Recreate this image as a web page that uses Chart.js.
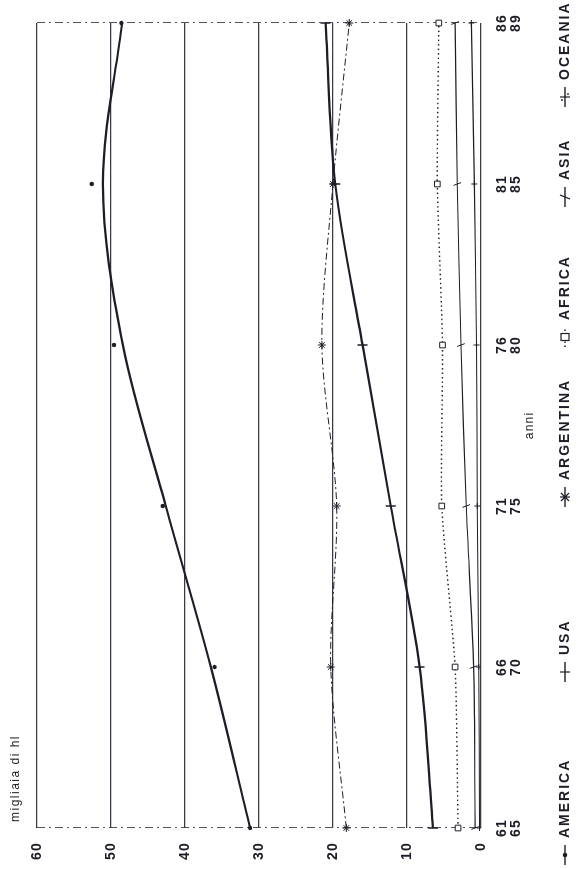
<!DOCTYPE html>
<html><head><meta charset="utf-8">
<script src="https://cdn.jsdelivr.net/npm/chart.js@4/dist/chart.umd.min.js"></script>
<style>
html,body{margin:0;padding:0;background:#fff;width:583px;height:869px;overflow:hidden}
#wrap{position:absolute;left:0;top:0;width:869px;height:583px;transform-origin:0 0;transform:translate(0,869px) rotate(-90deg);}
canvas{display:block}
</style></head><body>
<div id="wrap"><canvas id="c" width="869" height="583"></canvas></div>
<script>
// ---- data ----
const periods = [["61","65"],["66","70"],["71","75"],["76","80"],["81","85"],["86","89"]];
const americaPoints = [31.2, 36.0, 43.0, 49.6, 52.6, 48.6];
const americaTrend  = [31.2, 36.5, 42.6, 48.4, 51.1, 48.5];
const usa       = [6.5, 8.3, 12.2, 16.0, 19.7, 21.0];
const argentina = [18.2, 20.3, 19.5, 21.5, 20.0, 17.8];
const africa    = [3.1, 3.5, 5.3, 5.2, 5.9, 5.7];
const asia      = [0.8, 1.0, 2.0, 2.7, 3.2, 3.5];
const oceania   = [0.2, 0.3, 0.5, 0.6, 0.9, 1.3];
const valueMin = 0, valueMax = 60, valueStep = 10;
const seriesNames = ["AMERICA","USA","ARGENTINA","AFRICA","ASIA","OCEANIA"];
const yTitle = "migliaia di hl";
const xTitle = "anni";

// ---- layout / style ----
const INK = '#1d1d27';
const GRID = '#3a3a46';
const FONT = '"Liberation Sans", Arial, sans-serif';
const SPACING = '1.2px';
const LEGEND_TEXT_X = [31, 214, 389, 549, 689, 789];   // where each legend text starts
const LEGEND_Y = 565, SYM = 20;

function drawSymbol(g, kind, x0, cy){
  const x1 = x0 + SYM, cx = (x0 + x1) / 2;
  g.save();
  g.strokeStyle = INK; g.fillStyle = INK; g.lineWidth = 1.4;
  if (kind === 'AFRICA') g.setLineDash([1.5,2.5]);
  g.beginPath(); g.moveTo(x0, cy); g.lineTo(x1, cy); g.stroke();
  g.setLineDash([]); g.lineWidth = 1.2;
  g.beginPath();
  if (kind === 'AMERICA') { g.arc(cx, cy, 2.2, 0, Math.PI*2); g.fill(); }
  else if (kind === 'USA') { g.moveTo(cx, cy-5); g.lineTo(cx, cy+5); g.stroke(); }
  else if (kind === 'ARGENTINA') { g.moveTo(cx, cy-5); g.lineTo(cx, cy+5); g.moveTo(cx-4, cy-4); g.lineTo(cx+4, cy+4); g.moveTo(cx+4, cy-4); g.lineTo(cx-4, cy+4); g.stroke(); }
  else if (kind === 'AFRICA') { g.fillStyle = '#fff'; g.fillRect(cx-3.5, cy-4, 7, 8); g.strokeRect(cx-3.5, cy-4, 7, 8); }
  else if (kind === 'ASIA') { g.moveTo(cx-2, cy+5); g.lineTo(cx+2, cy-5); g.stroke(); }
  else if (kind === 'OCEANIA') { g.moveTo(cx, cy-5); g.lineTo(cx, cy+5); g.stroke(); g.beginPath(); g.arc(cx-3, cy-3, 0.9, 0, Math.PI*2); g.arc(cx+3, cy+3, 0.9, 0, Math.PI*2); g.fill(); }
  g.restore();
}

const spacingPlugin = {
  id: 'spacing',
  beforeLayout(chart){ chart.ctx.letterSpacing = SPACING; },
  beforeDraw(chart){ chart.ctx.letterSpacing = SPACING; }
};
const textPlugin = {
  id: 'texts',
  afterDraw(chart){
    const {ctx, chartArea} = chart;
    ctx.save();
    ctx.fillStyle = INK;
    ctx.textBaseline = 'middle';
    ctx.textAlign = 'left';
    // value-axis title
    ctx.letterSpacing = '1.5px';
    ctx.font = '12px ' + FONT;
    ctx.fillText(yTitle, chartArea.left + 6, 16);
    // legend
    ctx.letterSpacing = '2px';
    ctx.font = 'bold 14px ' + FONT;
    seriesNames.forEach((name, i) => {
      drawSymbol(ctx, name, LEGEND_TEXT_X[i] - 7 - SYM, LEGEND_Y);
      ctx.fillText(name, LEGEND_TEXT_X[i], LEGEND_Y + 0.5);
    });
    ctx.restore();
  }
};

const base = { borderColor: INK, pointBorderColor: INK, pointBackgroundColor: INK, fill: false };

new Chart(document.getElementById('c'), {
  type: 'line',
  data: {
    labels: periods,
    datasets: [
      Object.assign({}, base, { label: seriesNames[0], data: americaTrend, borderWidth: 2.2, cubicInterpolationMode: 'monotone', pointRadius: 0 }),
      Object.assign({}, base, { label: seriesNames[0] + ' (dati)', data: americaPoints, showLine: false, pointStyle: 'circle', pointRadius: 2.2, pointBorderWidth: 0 }),
      Object.assign({}, base, { label: seriesNames[1], data: usa, borderWidth: 2.2, cubicInterpolationMode: 'monotone', pointStyle: 'line', pointRotation: 90, pointRadius: 5, pointBorderWidth: 1.5 }),
      Object.assign({}, base, { label: seriesNames[2], data: argentina, borderWidth: 1, borderDash: [7,3,2,3], tension: 0.3, pointStyle: 'star', pointRadius: 4, pointBorderWidth: 1 }),
      Object.assign({}, base, { label: seriesNames[3], data: africa, borderWidth: 1.4, borderDash: [1.5,3], tension: 0.2, pointStyle: 'rect', pointRadius: 4, pointBorderWidth: 1, pointBackgroundColor: '#fff' }),
      Object.assign({}, base, { label: seriesNames[4], data: asia, borderWidth: 1.1, tension: 0.3, pointStyle: 'line', pointRotation: 70, pointRadius: 4, pointBorderWidth: 1 }),
      Object.assign({}, base, { label: seriesNames[5], data: oceania, borderWidth: 1.1, tension: 0.3, pointStyle: 'cross', pointRadius: 3, pointBorderWidth: 1 })
    ]
  },
  options: {
    responsive: false,
    animation: false,
    layout: { padding: { top: 37, right: 18, left: 0, bottom: 25 } },
    scales: {
      x: {
        type: 'category',
        offset: false,
        grid: {
          drawTicks: false,
          color: ctx => (ctx.index === 0 || ctx.index === periods.length - 1) ? '#555560' : 'rgba(0,0,0,0)',
          lineWidth: 1
        },
        border: { display: false, dash: [8,4,2,4] },
        ticks: { color: INK, padding: 14, maxRotation: 0, autoSkip: false, font: { family: FONT, size: 14, weight: 'bold', lineHeight: 1.0 } },
        title: { display: true, text: xTitle, color: INK, padding: { top: 0, bottom: 21 }, font: { family: FONT, size: 12 } },
        afterFit(scale){ scale.height = 77; }
      },
      y: {
        min: valueMin, max: valueMax,
        ticks: { stepSize: valueStep, color: INK, padding: 14, font: { family: FONT, size: 14, weight: 'bold' } },
        grid: { drawTicks: false, color: GRID, lineWidth: 1.2 },
        border: { display: false },
        afterFit(scale){ scale.width = 41; }
      }
    },
    plugins: {
      legend: { display: false },
      tooltip: { enabled: false }
    }
  },
  plugins: [spacingPlugin, textPlugin]
});
</script>
</body></html>
